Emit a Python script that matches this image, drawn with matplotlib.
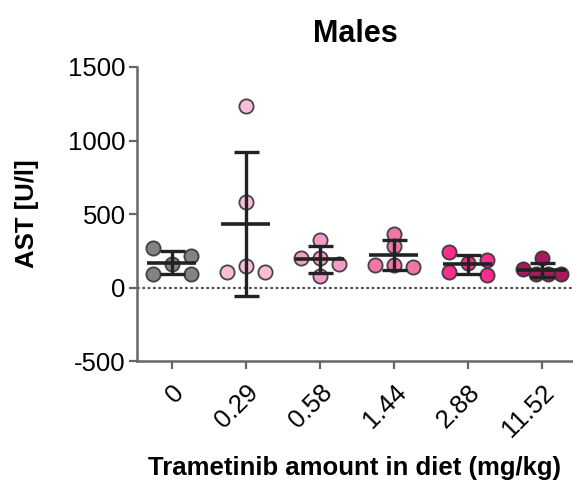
import numpy as np
import matplotlib
matplotlib.use("Agg")
import matplotlib.pyplot as plt

plt.rcParams["font.family"] = ["Liberation Sans", "DejaVu Sans"]

# Trametinib dose groups (mg/kg in diet) and AST values per animal [U/l]
doses = ["0", "0.29", "0.58", "1.44", "2.88", "11.52"]
ast_0 = [271, 217, 163, 95, 95]
ast_029 = [1233, 581, 149, 104, 104]
ast_058 = [325, 200, 200, 160, 75]
ast_144 = [366, 285, 156, 156, 140]
ast_288 = [240, 185, 167, 104, 88]
ast_1152 = [200, 125, 90, 90, 90]
groups = [ast_0, ast_029, ast_058, ast_144, ast_288, ast_1152]

colors = ["#767676", "#f9b6d6", "#f391c3", "#f0679f", "#f7177f", "#a1004c"]

fig = plt.figure(figsize=(5.73, 4.82), dpi=100)
ax = fig.add_axes([0.239, 0.251, 0.761, 0.610])
ax.set_xlim(-0.47, 5.42)
ax.set_ylim(-500, 1500)

# dotted reference line at zero
ax.axhline(0, color="#555555", lw=1.6, ls=(0, (1.2, 1.2)), zorder=1)

# pixel scale used to spread overlapping points sideways
p0 = ax.transData.transform((0, 0))
p1 = ax.transData.transform((1, 1))
px_x = p1[0] - p0[0]
px_y = p1[1] - p0[1]
row_height = 9.0   # px: values closer than this share a row
half_width = 19.0  # px: outermost point offset in a row


def spread(vals):
    order = list(np.argsort(vals)[::-1])
    rows = []
    for i in order:
        if rows and (vals[rows[-1][0]] - vals[i]) * px_y < row_height:
            rows[-1].append(i)
        else:
            rows.append([i])
    res = [0.0] * len(vals)
    for row in rows:
        n = len(row)
        if n == 1:
            continue
        if n == 3:
            slots = [0.0, -half_width, half_width]
        else:
            slots = list(np.linspace(-half_width, half_width, n))
        for i, s in zip(row, slots):
            res[i] = s / px_x
    return res


for i, (vals, col) in enumerate(zip(groups, colors)):
    offs = spread(vals)
    xs = [i + o for o in offs]
    ax.scatter(xs, vals, s=105, color=col, edgecolor="#333333", linewidth=1.3,
               alpha=0.9, zorder=3)
    m = np.mean(vals)
    sd = np.std(vals, ddof=1)
    ax.plot([i - 0.33, i + 0.33], [m, m], color="#222222", lw=2.6, zorder=4,
            solid_capstyle="butt")
    ax.errorbar([i], [m], yerr=[sd], fmt="none", ecolor="#222222", elinewidth=2.4,
                capsize=9, capthick=2.4, zorder=4)

ax.set_xticks(range(len(doses)))
ax.set_xticklabels(doses, rotation=45, ha="right", va="top",
                   rotation_mode="anchor", fontsize=18.5)
ax.set_yticks([-500, 0, 500, 1000, 1500])
ax.set_yticklabels(["-500", "0", "500", "1000", "1500"], fontsize=18.5)

for s in ["top", "right"]:
    ax.spines[s].set_visible(False)
for s in ["left", "bottom"]:
    ax.spines[s].set_color("#666666")
    ax.spines[s].set_linewidth(1.8)
ax.tick_params(axis="both", colors="#666666", width=1.6, length=6,
               labelcolor="black", pad=2)
ax.tick_params(axis="x", pad=8)

ax.set_ylabel("AST [U/l]", fontsize=18.5, fontweight="bold", labelpad=21)
ax.set_xlabel("Trametinib amount in diet (mg/kg)", fontsize=18.5,
              fontweight="bold", labelpad=10)
ax.set_title("Males", fontsize=22, fontweight="bold", pad=18)

fig.savefig("out.png", dpi=100)
